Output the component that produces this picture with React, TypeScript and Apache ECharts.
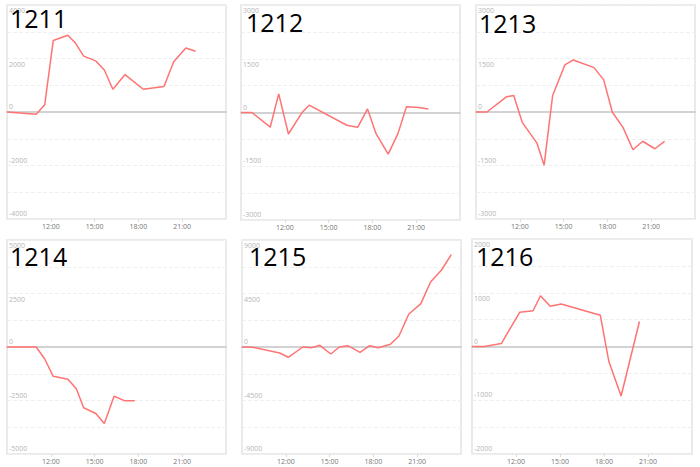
import React, { useEffect, useRef } from "react";
import * as echarts from "echarts";

// ---- data ----
const panelNames = ["1211", "1212", "1213", "1214", "1215", "1216"];

const times1211 = ["09:00", "11:00", "11:35", "12:10", "13:10", "13:40", "14:15", "15:05", "15:40", "16:15", "17:05", "18:20", "19:45", "20:25", "21:15", "21:55"];
const values1211 = [0, -80, 270, 2670, 2870, 2590, 2090, 1910, 1570, 850, 1400, 850, 950, 1880, 2390, 2270];

const times1212 = ["09:00", "09:45", "11:00", "11:35", "12:15", "13:10", "13:40", "16:15", "17:00", "17:40", "18:15", "19:05", "19:45", "20:20", "21:10", "21:50"];
const values1212 = [0, 0, -410, 520, -600, -10, 205, -355, -410, 100, -590, -1160, -590, 160, 140, 95];

const times1213 = ["09:00", "09:45", "11:05", "11:35", "12:10", "13:10", "13:40", "14:15", "15:05", "15:40", "17:05", "17:45", "18:20", "19:05", "19:45", "20:25", "21:15", "21:55"];
const values1213 = [0, 0, 425, 465, -290, -865, -1490, 465, 1320, 1460, 1245, 900, 0, -445, -1060, -820, -1030, -825];

const times1214 = ["09:00", "11:00", "11:35", "12:10", "13:10", "13:45", "14:15", "15:05", "15:40", "16:20", "17:05", "17:45"];
const values1214 = [0, 0, -560, -1370, -1505, -1955, -2840, -3105, -3570, -2300, -2515, -2515];

const times1215 = ["09:00", "09:45", "11:35", "12:10", "13:10", "13:45", "14:20", "15:05", "15:40", "16:15", "17:05", "17:45", "18:20", "19:10", "19:45", "20:25", "21:15", "21:55", "22:40", "23:20"];
const values1215 = [0, -30, -505, -865, 0, -55, 140, -590, 0, 110, -450, 110, -55, 225, 925, 2750, 3645, 5465, 6475, 7770];

const times1216 = ["09:00", "09:50", "11:00", "12:15", "13:10", "13:40", "14:20", "15:05", "17:45", "18:20", "19:10", "20:25"];
const values1216 = [0, 0, 55, 635, 665, 945, 750, 790, 580, -280, -920, 465];

const allTimes = [times1211, times1212, times1213, times1214, times1215, times1216];
const allValues = [values1211, values1212, values1213, values1214, values1215, values1216];

// y axis extent (symmetric) and label step per panel
const yMax = [4000, 3000, 3000, 5000, 9000, 2000];
const xTickHours = [9, 24, 3]; // min, max, step

// ---- layout ----
const grids = [
  [7, 5, 219, 214],
  [241, 5, 219, 215],
  [476, 5, 219, 214],
  [7, 240, 219, 214],
  [242, 240, 219, 214],
  [472, 239, 220, 215],
];
const titlePos = [
  [10, 5],
  [246, 9],
  [479, 10],
  [10, 243],
  [249, 243],
  [476, 243],
];

const LINE_COLOR = "#ff7373";
const FONT = "'Open Sans', 'Noto Sans', sans-serif";

function toHours(s: string): number {
  const [h, m] = s.split(":").map(Number);
  return h + m / 60;
}

function buildOption() {
  const grid: any[] = [];
  const xAxis: any[] = [];
  const yAxis: any[] = [];
  const series: any[] = [];
  const title: any[] = [];

  panelNames.forEach((name, i) => {
    const [l, t, w, h] = grids[i];
    grid.push({
      left: l,
      top: t,
      width: w,
      height: h,
      show: true,
      borderColor: "#e4e4e4",
      borderWidth: 1.5,
      backgroundColor: "transparent",
      containLabel: false,
    });
    title.push({
      text: name,
      left: titlePos[i][0],
      top: titlePos[i][1],
      padding: 0,
      textStyle: { fontSize: 25, fontWeight: "normal", color: "#000", fontFamily: FONT },
    });
    // labelled x axis at bottom
    xAxis.push({
      type: "value",
      gridIndex: i,
      min: xTickHours[0],
      max: xTickHours[1],
      interval: xTickHours[2],
      position: "bottom",
      axisLine: { show: false, onZero: false },
      axisTick: { show: true, length: 3, lineStyle: { color: "#ddd" } },
      axisLabel: {
        show: true,
        showMinLabel: false,
        showMaxLabel: false,
        margin: 4,
        fontSize: 7,
        color: "#777",
        fontFamily: FONT,
        formatter: (v: number) => `${v}:00`,
      },
      splitLine: { show: false },
    });
    // zero line axis
    xAxis.push({
      type: "value",
      gridIndex: i,
      min: xTickHours[0],
      max: xTickHours[1],
      interval: xTickHours[2],
      position: "top",
      axisLine: { show: true, onZero: true, lineStyle: { color: "#d2d2d2", width: 2 } },
      axisTick: { show: false },
      axisLabel: { show: false },
      splitLine: { show: false },
    });
    const m = yMax[i];
    yAxis.push({
      type: "value",
      gridIndex: i,
      min: -m,
      max: m,
      interval: m / 2,
      axisLine: { show: false },
      axisTick: { show: false },
      minorTick: { show: false, splitNumber: 2 },
      minorSplitLine: { show: true, lineStyle: { color: "#efefef", type: "dashed", width: 1 } },
      splitLine: { show: true, lineStyle: { color: "#efefef", type: "dashed", width: 1 } },
      axisLabel: {
        inside: true,
        margin: 2,
        align: "left",
        verticalAlign: "middle",
        fontSize: 7,
        color: "#b5b5b5",
        fontFamily: FONT,
        formatter: (v: number) => (v > 0 ? `{d|${v}}` : `{u|${v}}`),
        rich: {
          d: { fontSize: 7, color: "#b5b5b5", fontFamily: FONT, padding: [11, 0, 0, 0] },
          u: { fontSize: 7, color: "#b5b5b5", fontFamily: FONT, padding: [0, 0, 11, 0] },
        },
      },
    });
    series.push({
      type: "line",
      xAxisIndex: i * 2,
      yAxisIndex: i,
      showSymbol: false,
      symbol: "none",
      lineStyle: { color: LINE_COLOR, width: 1.5 },
      itemStyle: { color: LINE_COLOR },
      z: 3,
      data: allTimes[i].map((tm, k) => [toHours(tm), allValues[i][k]]),
    });
  });

  return {
    animation: false,
    backgroundColor: "#fff",
    title,
    grid,
    xAxis,
    yAxis,
    series,
  };
}

export default function App() {
  const ref = useRef<HTMLDivElement>(null);
  useEffect(() => {
    if (!ref.current) return;
    const chart = echarts.init(ref.current, undefined, { renderer: "svg" });
    chart.setOption(buildOption() as any);
    return () => chart.dispose();
  }, []);
  return (
    <div
      ref={ref}
      style={{ position: "absolute", left: 0, top: 0, width: 700, height: 467 }}
    />
  );
}
